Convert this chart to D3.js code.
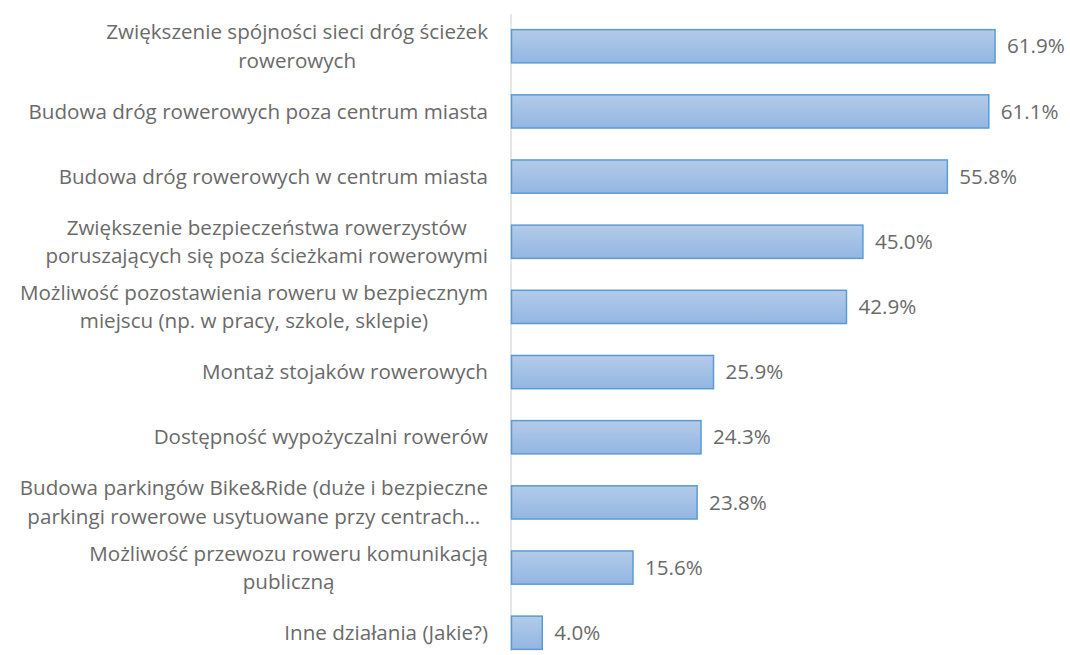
<!DOCTYPE html>
<html><head><meta charset="utf-8">
<script src="https://cdn.jsdelivr.net/npm/d3@7"></script>
<style>body{margin:0;background:#fff;} text{font-family:"Open Sans",sans-serif;}</style>
</head><body>
<svg id="c" width="1070" height="655"></svg>
<script>
const categories = [
  "Zwiększenie spójności sieci dróg ścieżek\nrowerowych",
  "Budowa dróg rowerowych poza centrum miasta",
  "Budowa dróg rowerowych w centrum miasta",
  "Zwiększenie bezpieczeństwa rowerzystów\nporuszających się poza ścieżkami rowerowymi",
  "Możliwość pozostawienia roweru w bezpiecznym\nmiejscu (np. w pracy, szkole, sklepie)",
  "Montaż stojaków rowerowych",
  "Dostępność wypożyczalni rowerów",
  "Budowa parkingów Bike&Ride (duże i bezpieczne\nparkingi rowerowe usytuowane przy centrach…",
  "Możliwość przewozu roweru komunikacją\npubliczną",
  "Inne działania (Jakie?)"
];
const values = [61.9, 61.1, 55.8, 45.0, 42.9, 25.9, 24.3, 23.8, 15.6, 4.0];

const svg = d3.select("#c");
const x0 = 511;
const x = d3.scaleLinear().domain([0, 70]).range([x0, x0 + 547.4]);
const y = d3.scaleBand().domain(d3.range(categories.length)).range([14, 665]).paddingInner(0.49).paddingOuter(0.24);

const defs = svg.append("defs");
const g = defs.append("linearGradient").attr("id","bg").attr("x1",0).attr("y1",0).attr("x2",0).attr("y2",1);
g.append("stop").attr("offset","0%").attr("stop-color","#b3cbe9");
g.append("stop").attr("offset","100%").attr("stop-color","#93b6e2");

svg.append("line").attr("x1",x0).attr("x2",x0).attr("y1",14).attr("y2",651)
  .attr("stroke","#d9d9d9").attr("stroke-width",1.3);

svg.selectAll("rect.bar").data(values).join("rect").attr("class","bar")
  .attr("x", x0+0.5).attr("y",(d,i)=>y(i))
  .attr("width", d=>x(d)-x0-0.5).attr("height", y.bandwidth())
  .attr("fill","url(#bg)").attr("stroke","#5b9bd5").attr("stroke-width",1.5);

svg.selectAll("text.val").data(values).join("text").attr("class","val")
  .attr("x", d=>x(d)+12).attr("y",(d,i)=>y(i)+y.bandwidth()/2)
  .attr("dy","0.35em").attr("font-size",20.6).attr("fill","#6a6a6a")
  .text(d=>d.toFixed(1)+"%");

const lh = 28.5;
const right = 488;
categories.forEach((c,i)=>{
  const lines = c.split("\n");
  const cy = y(i)+y.bandwidth()/2;
  const t = svg.append("text").attr("text-anchor","middle").attr("font-size",20.6).attr("fill","#6a6a6a");
  const spans = lines.map((ln,k)=>
    t.append("tspan").attr("y", cy + (k-(lines.length-1)/2)*lh).attr("dy","0.35em").text(ln));
  const w = d3.max(spans, s=>s.node().getComputedTextLength());
  spans.forEach(s=>s.attr("x", right - w/2));
});
</script>
</body></html>
